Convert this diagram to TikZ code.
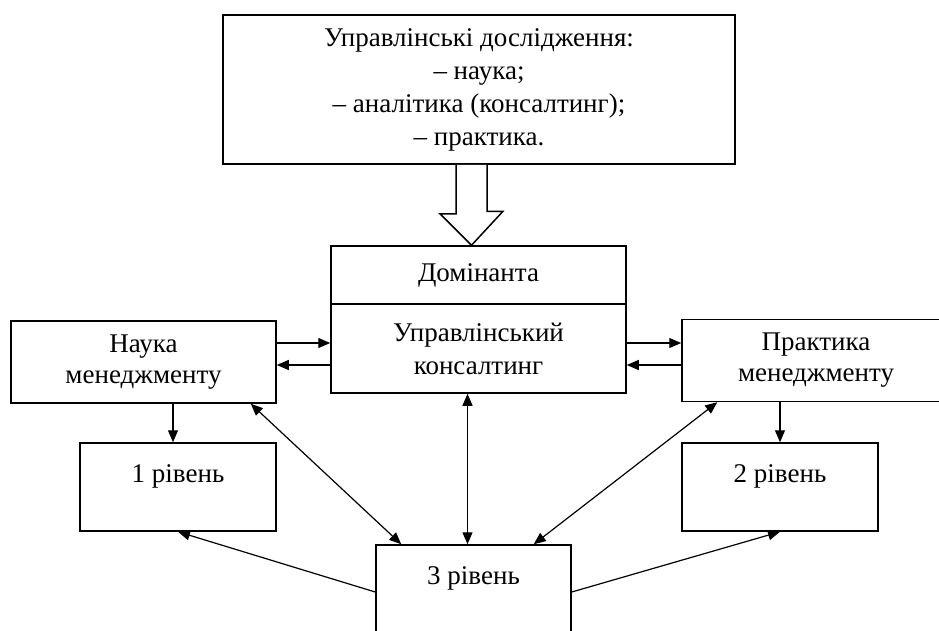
\documentclass[tikz,border=0pt]{standalone}
\usepackage{fontspec}
\setmainfont{Liberation Serif}
\usetikzlibrary{arrows.meta}
\tikzstyle{research} = [rectangle, draw, line width=1.5pt, minimum width=512pt, minimum height=149pt, align=center, font=\fontsize{27}{33}\selectfont]
\tikzstyle{centre} = [rectangle, draw, line width=1.5pt, minimum width=295pt, align=center, font=\fontsize{27}{33}\selectfont]
\tikzstyle{branch} = [rectangle, draw, line width=1.5pt, minimum height=82pt, align=center, font=\fontsize{27}{31}\selectfont]
\tikzstyle{level} = [rectangle, draw, line width=1.5pt, minimum width=196pt, inner ysep=0pt, text height=39pt, text depth=49pt, font=\fontsize{27}{31}\selectfont]
\tikzstyle{arrow} = [line width=1.2pt, -{Triangle[length=12pt,width=10pt]}]
\tikzstyle{twoway} = [line width=1.2pt, {Triangle[length=12pt,width=10pt]}-{Triangle[length=12pt,width=10pt]}]
\tikzstyle{hollow} = [draw, line width=1.5pt, fill=white]

\begin{document}
\begin{tikzpicture}[x=1pt, y=-1pt]
            \useasboundingbox (0,0) rectangle (939,630);
            \node [research] at (479,89.5) (research) {Управлінські дослідження:\\ – наука;\\ – аналітика (консалтинг);\\ – практика.};
            \node [centre, minimum height=58pt] at (478.5,275) (dom) {Домінанта};
            \node [centre, minimum height=89pt] at (478.5,348.5) (consult) {Управлінський\\ консалтинг};
            \node [branch, minimum width=265pt] at (143.5,362) (nauka) {Наука\\ менеджменту};
            \node [branch, minimum width=268pt] at (816,360.5) (practice) {Практика\\ менеджменту};
            \node [level] at (178,487) (lvl1) {1 рівень};
            \node [level] at (780,487) (lvl2) {2 рівень};
            \node [level, minimum width=195pt] at (473.5,589) (lvl3) {3 рівень};
            \draw [hollow] ([xshift=-23pt]research.south) -- ++(0,49) -- ++(-16,0) -- ([xshift=-7pt]dom.north) -- ++(31.5,-34) -- ++(-16,0) -- ([xshift=8pt]research.south);
            \draw [arrow] ([yshift=19pt]nauka.east) -- ([yshift=19pt]nauka.east -| consult.west);
            \draw [arrow] ([yshift=-3pt]nauka.east -| consult.west) -- ([yshift=-3pt]nauka.east);
            \draw [arrow] ([yshift=17.5pt]practice.west -| consult.east) -- ([yshift=17.5pt]practice.west);
            \draw [arrow] ([yshift=-4.5pt]practice.west) -- ([yshift=-4.5pt]practice.west -| consult.east);
            \draw [arrow] ([xshift=-5pt]lvl1.north |- nauka.south) -- ([xshift=-5pt]lvl1.north);
            \draw [arrow] (lvl2.north |- practice.south) -- (lvl2.north);
            \draw [twoway] ([xshift=-26pt]nauka.south east) -- ([xshift=26pt]lvl3.north west);
            \draw [twoway] ([xshift=-11pt]consult.south) -- ([xshift=-11pt]consult.south |- lvl3.north);
            \draw [twoway] ([xshift=36pt]practice.south west) -- ([xshift=-38pt]lvl3.north east);
            \draw [arrow] ([yshift=-3pt]lvl3.west) -- (lvl1.south);
            \draw [arrow] ([yshift=-3pt]lvl3.east) -- (lvl2.south);
            \end{tikzpicture}
\end{document}
